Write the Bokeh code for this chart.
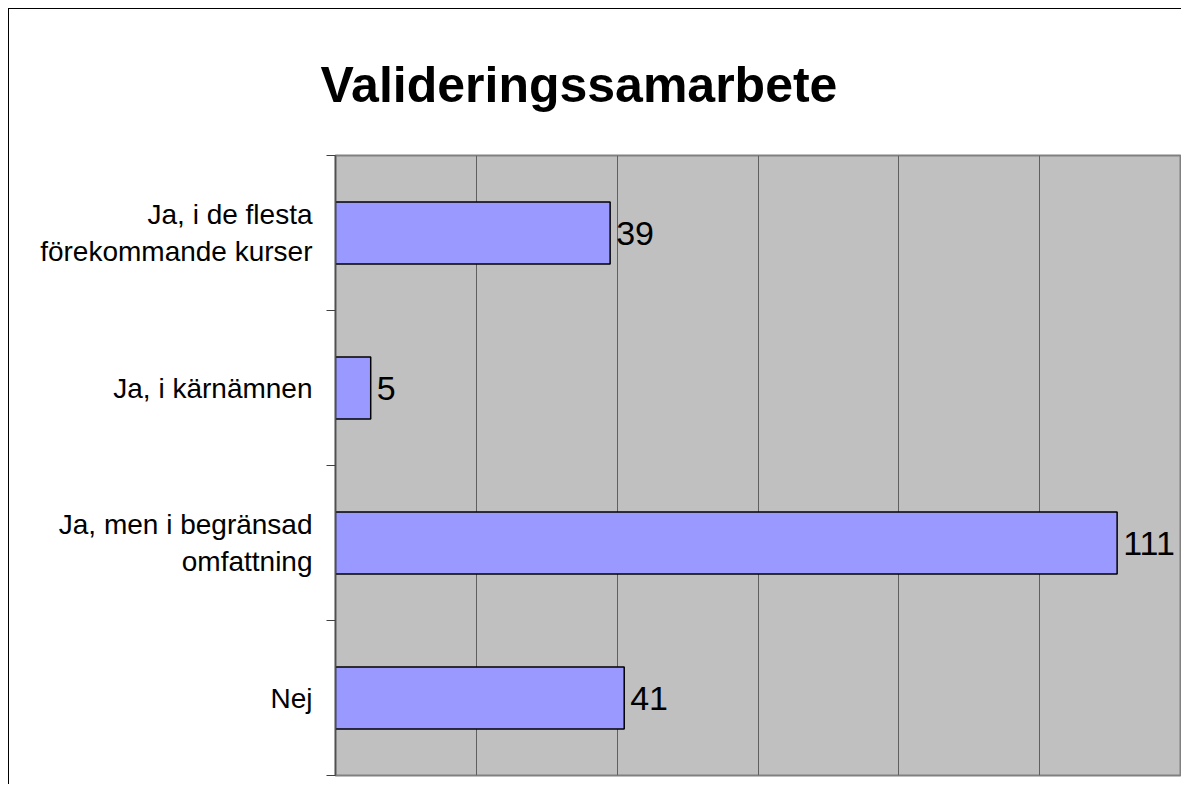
from bokeh.plotting import figure
from bokeh.models import Range1d, FixedTicker, LabelSet, ColumnDataSource
from bokeh.core.properties import value
from bokeh.embed import file_html
from bokeh.resources import INLINE

title_text = "Valideringssamarbete"
categories = ["Ja, i de flesta\nförekommande kurser", "Ja, i kärnämnen",
              "Ja, men i begränsad\nomfattning", "Nej"]
values = [39, 5, 111, 41]
x_grid_ticks = [0, 20, 40, 60, 80, 100, 120]

n = len(categories)
ypos = [n - i - 0.5 for i in range(n)]
bounds = [float(i) for i in range(n + 1)]
src = ColumnDataSource(dict(y=ypos, v=values, lbl=[str(v) for v in values]))

FONT = "Liberation Sans"

p = figure(width=1173, height=776, output_backend="svg", toolbar_location=None,
           x_range=Range1d(0, 120), y_range=Range1d(0, n),
           min_border_left=326, min_border_right=2, min_border_top=146,
           min_border_bottom=10)
p.styles = {"margin-left": "8px", "margin-top": "8px",
            "border-top": "1px solid black", "border-left": "1px solid black"}

p.background_fill_color = "#C0C0C0"
p.border_fill_color = "white"
p.outline_line_color = "#808080"
p.outline_line_width = 2

p.title.text = title_text
p.title.text_font = FONT
p.title.text_font_style = "bold"
p.title.text_font_size = "50px"
p.title.text_color = "black"
p.title.align = "left"
p.title.offset = -15
p.title.standoff = 85

p.hbar(y="y", right="v", left=0, height=0.4, source=src,
       fill_color="#9999FF", line_color="black", line_width=1.5)

labels = LabelSet(x="v", y="y", text="lbl", source=src, x_offset=6,
                  text_baseline="middle", text_font=value(FONT),
                  text_font_size=value("34px"), text_color="black")
p.add_layout(labels)

p.xaxis.visible = False
p.xgrid.ticker = FixedTicker(ticks=x_grid_ticks)
p.xgrid.grid_line_color = "#606060"
p.xgrid.grid_line_width = 1
p.ygrid.grid_line_color = None

yax = p.yaxis[0]
yax.ticker = FixedTicker(ticks=ypos, minor_ticks=bounds)
yax.major_label_overrides = {y: c for y, c in zip(ypos, categories)}
yax.major_tick_line_color = None
yax.major_tick_out = 0
yax.major_tick_in = 0
yax.minor_tick_line_color = "#404040"
yax.minor_tick_out = 9
yax.minor_tick_in = 0
yax.axis_line_color = "#505050"
yax.axis_line_width = 1.5
yax.major_label_text_font = FONT
yax.major_label_text_font_size = "28px"
yax.major_label_text_color = "black"
yax.major_label_standoff = 14

open("out.html", "w").write(file_html(p, INLINE))
